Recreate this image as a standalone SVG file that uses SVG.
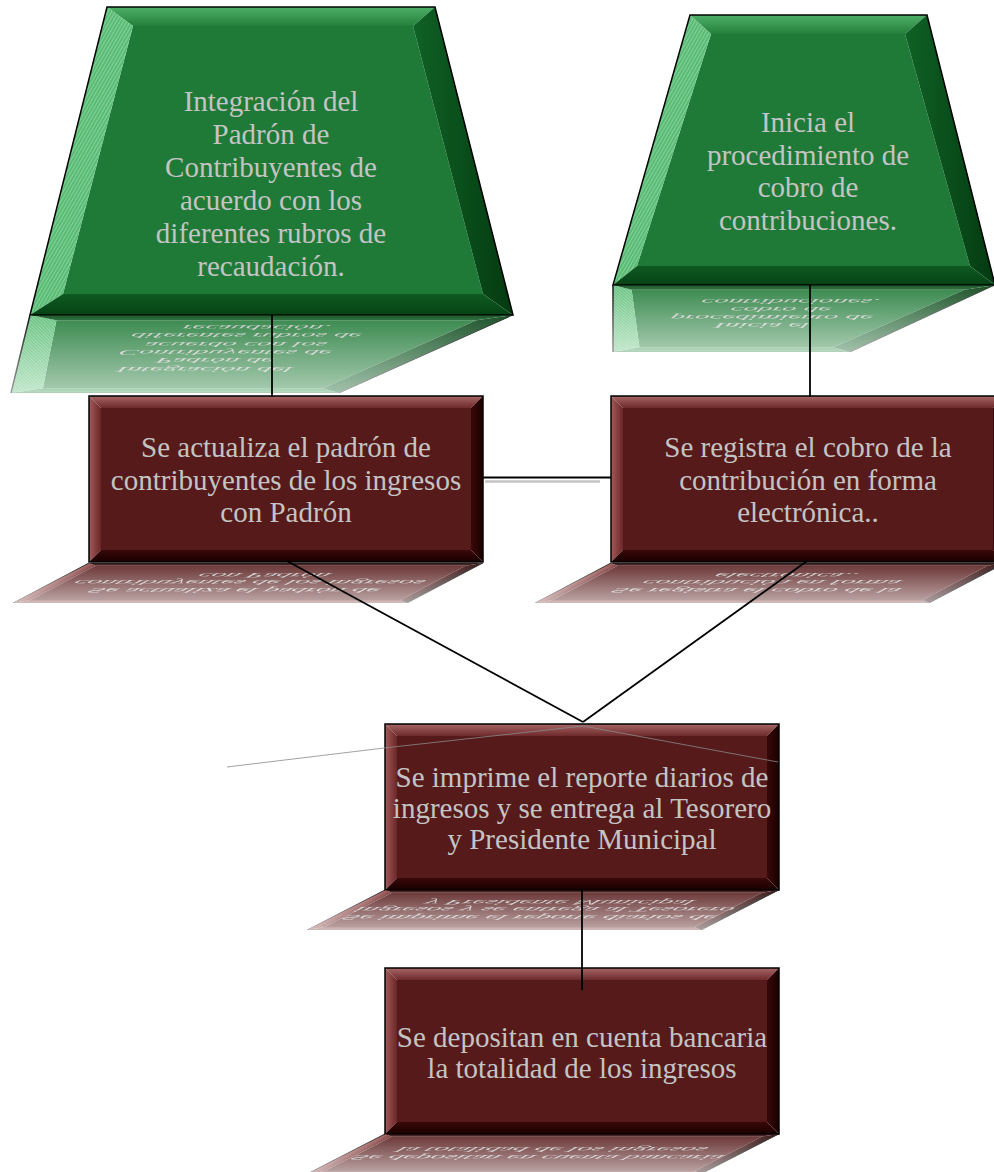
<svg xmlns="http://www.w3.org/2000/svg" xmlns:xlink="http://www.w3.org/1999/xlink" width="994" height="1172" viewBox="0 0 994 1172">
<style>
.t { font-family: "Liberation Serif", "Times New Roman", serif; font-size: 29px; fill: #c4c4c4; text-anchor: middle; }
.outline { fill: none; stroke: #000; stroke-width: 1.5; stroke-linejoin: miter; }
.conn { stroke: #000; stroke-width: 1.8; fill: none; }
.faint { stroke: #8a8a8a; stroke-width: 1; fill: none; opacity: 0.8; }
.shadow { stroke: #c4c4c4; stroke-width: 2.5; fill: none; }
</style>
<defs>
  <linearGradient id="mTop" x1="0" y1="0" x2="0" y2="1"><stop offset="0" stop-color="#a86666"/><stop offset="1" stop-color="#6e2a2a"/></linearGradient>
  <linearGradient id="mLeft" x1="0" y1="0" x2="1" y2="0"><stop offset="0" stop-color="#a45a5a"/><stop offset="1" stop-color="#6a2626"/></linearGradient>
  <linearGradient id="mRight" x1="0" y1="0" x2="1" y2="0"><stop offset="0" stop-color="#3a0808"/><stop offset="1" stop-color="#1a0000"/></linearGradient>
  <linearGradient id="mBottom" x1="0" y1="0" x2="0" y2="1"><stop offset="0" stop-color="#3a0909"/><stop offset="1" stop-color="#180000"/></linearGradient>
  <linearGradient id="gTop" x1="0" y1="0" x2="0" y2="1"><stop offset="0" stop-color="#4eaf68"/><stop offset="1" stop-color="#24803b"/></linearGradient>
  <linearGradient id="gRight" x1="0" y1="0" x2="1" y2="0"><stop offset="0" stop-color="#0f6226"/><stop offset="1" stop-color="#043a10"/></linearGradient>
  <linearGradient id="gBottom" x1="0" y1="0" x2="0" y2="1"><stop offset="0" stop-color="#0e5a22"/><stop offset="1" stop-color="#064214"/></linearGradient>
  <pattern id="stripes" width="3" height="3" patternUnits="userSpaceOnUse" patternTransform="rotate(-60)">
    <rect width="3" height="1" fill="#c4f4d0" opacity="0.4"/>
  </pattern>
  <linearGradient id="fade" x1="0" y1="0" x2="0" y2="1"><stop offset="0" stop-color="#fff" stop-opacity="0.9"/><stop offset="1" stop-color="#fff" stop-opacity="0.38"/></linearGradient>
  <mask id="rm" maskContentUnits="objectBoundingBox"><rect width="1" height="1" fill="url(#fade)"/></mask>
  <g id="boxShape">
    <rect x="12" y="12" width="370" height="142" fill="#561a1a"/>
    <polygon points="0,0 394,0 382,12 12,12" fill="url(#mTop)"/>
    <polygon points="0,0 12,12 12,154 0,166" fill="url(#mLeft)"/>
    <polygon points="394,0 394,166 382,154 382,12" fill="url(#mRight)"/>
    <polygon points="0,166 12,154 382,154 394,166" fill="url(#mBottom)"/>
    <rect x="0" y="0" width="394" height="166" class="outline"/>
  </g>
</defs>
<rect x="0" y="0" width="994" height="1172" fill="#fff"/>

<g id="n1">
  <g id="n1-body">
    <polygon points="133,26 413,26 483,294 63,294" fill="#207a37"/>
    <polygon points="107,7 435,7 413,26 133,26" fill="url(#gTop)"/>
    <polygon points="107,7 133,26 63,294 30,315" fill="#5abb74"/>
    <polygon points="107,7 133,26 63,294 30,315" fill="url(#stripes)"/>
    <polygon points="435,7 513,315 483,294 413,26" fill="url(#gRight)"/>
    <polygon points="30,315 63,294 483,294 513,315" fill="url(#gBottom)"/>
    <polygon points="107,7 435,7 513,315 30,315" class="outline"/>
    <text class="t" x="271" y="111">Integración del</text>
    <text class="t" x="271" y="144">Padrón de</text>
    <text class="t" x="271" y="177">Contribuyentes de</text>
    <text class="t" x="271" y="210">acuerdo con los</text>
    <text class="t" x="271" y="243">diferentes rubros de</text>
    <text class="t" x="271" y="276">recaudación.</text>
  </g>
  <g mask="url(#rm)"><use xlink:href="#n1-body" href="#n1-body" transform="matrix(1 0 0.3117 -0.2532 -98.2 394.8)"/></g>
</g>

<g id="n2">
  <g id="n2-body">
    <polygon points="711,34 905,34 970,266 637,266" fill="#207a37"/>
    <polygon points="690,15 927,15 905,34 711,34" fill="url(#gTop)"/>
    <polygon points="690,15 711,34 637,266 613,285" fill="#5abb74"/>
    <polygon points="690,15 711,34 637,266 613,285" fill="url(#stripes)"/>
    <polygon points="927,15 995,285 970,266 905,34" fill="url(#gRight)"/>
    <polygon points="613,285 637,266 970,266 995,285" fill="url(#gBottom)"/>
    <polygon points="690,15 927,15 995,285 613,285" class="outline"/>
    <text class="t" x="808" y="132">Inicia el</text>
    <text class="t" x="808" y="165">procedimiento de</text>
    <text class="t" x="808" y="197">cobro de</text>
    <text class="t" x="808" y="230">contribuciones.</text>
  </g>
  <g mask="url(#rm)"><use xlink:href="#n2-body" href="#n2-body" transform="matrix(1 0 0.2852 -0.248 -81.28 355.7)"/></g>
</g>

<g id="n3">
  <g id="n3-body">
    <use xlink:href="#boxShape" href="#boxShape" x="89" y="396"/>
    <text class="t" x="286" y="457">Se actualiza el padrón de</text>
    <text class="t" x="286" y="490">contribuyentes de los ingresos</text>
    <text class="t" x="286" y="522">con Padrón</text>
  </g>
  <g mask="url(#rm)"><use xlink:href="#n3-body" href="#n3-body" transform="matrix(1 0 0.4578 -0.241 -257.3 698.4)"/></g>
</g>

<g id="n4">
  <g id="n4-body">
    <use xlink:href="#boxShape" href="#boxShape" x="611" y="396"/>
    <text class="t" x="808" y="457">Se registra el cobro de la</text>
    <text class="t" x="808" y="490">contribución en forma</text>
    <text class="t" x="808" y="522">electrónica..</text>
  </g>
  <g mask="url(#rm)"><use xlink:href="#n4-body" href="#n4-body" transform="matrix(1 0 0.4578 -0.241 -257.3 698.4)"/></g>
</g>

<g id="n5">
  <g id="n5-body">
    <use xlink:href="#boxShape" href="#boxShape" x="385" y="724"/>
    <text class="t" x="582" y="787">Se imprime el reporte diarios de</text>
    <text class="t" x="582" y="818">ingresos y se entrega al Tesorero</text>
    <text class="t" x="582" y="849">y Presidente Municipal</text>
  </g>
  <g mask="url(#rm)"><use xlink:href="#n5-body" href="#n5-body" transform="matrix(1 0 0.4727 -0.2424 -420.2 1105.5)"/></g>
</g>

<g id="n6">
  <g id="n6-body">
    <use xlink:href="#boxShape" href="#boxShape" x="385" y="968"/>
    <text class="t" x="582" y="1047">Se depositan en cuenta bancaria</text>
    <text class="t" x="582" y="1078">la totalidad de los ingresos</text>
  </g>
  <g mask="url(#rm)"><use xlink:href="#n6-body" href="#n6-body" transform="matrix(1 0 0.4727 -0.2424 -535.6 1408.6)"/></g>
</g>

<g id="connectors">
  <line class="conn" x1="272" y1="315" x2="272" y2="397"/>
  <line class="conn" x1="810" y1="285" x2="810" y2="397"/>
  <line class="shadow" x1="485" y1="481.5" x2="600" y2="481.5"/>
  <line class="conn" x1="483" y1="477.5" x2="611" y2="477.5"/>
  <line class="conn" x1="287" y1="561" x2="583" y2="722"/>
  <line class="conn" x1="807" y1="561" x2="583" y2="722"/>
  <polyline class="faint" points="227,767 384,748 583,726 778,762"/>
  <line class="conn" x1="582" y1="889" x2="582" y2="990"/>
</g>
</svg>
